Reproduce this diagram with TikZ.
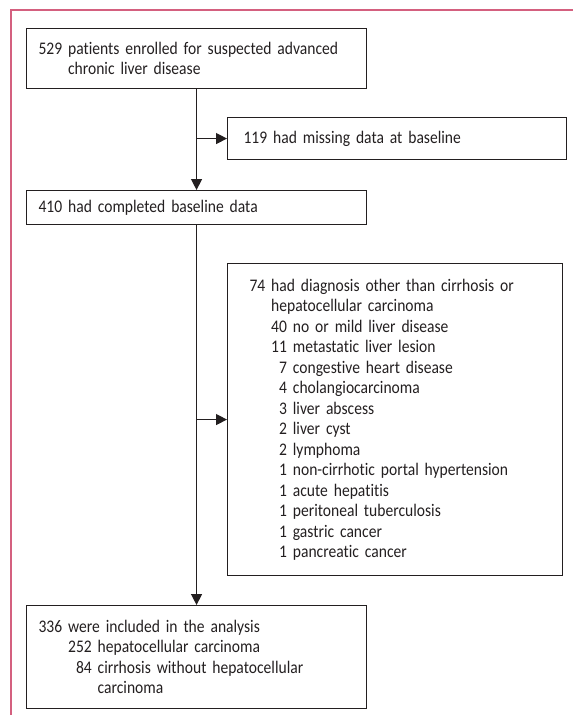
\documentclass[tikz,border=0pt]{standalone}
\usepackage{fontspec}
\setmainfont[FakeStretch=0.88,Ligatures=NoCommon]{Carlito}
\usetikzlibrary{arrows.meta}
\definecolor{pinkline}{HTML}{D4607F}
\definecolor{ink}{HTML}{231F20}
\begin{document}
\begin{tikzpicture}[x=1pt,y=-1pt,
  box/.style={draw=ink, line width=1.1pt, rectangle, anchor=north west, text=ink,
    font=\fontsize{17.7}{20.5}\selectfont, align=left, inner ysep=0pt},
  arr/.style={draw=ink, line width=1.4pt, -{Triangle[length=11pt,width=11pt]}}]
\useasboundingbox (0,0) rectangle (573,715);
\draw[pinkline, line width=1.6pt] (11,715) -- (11,10) -- (573,10);

\node[box, minimum width=340pt, minimum height=60pt, inner xsep=12pt, text width=316pt] (b1) at (26,28)
  {529 patients enrolled for suspected advanced\\\phantom{529\ }chronic liver disease};
\node[box, minimum width=339pt, minimum height=42pt, inner xsep=16pt, text width=307pt] (b2) at (227,117)
  {119 had missing data at baseline};
\node[box, minimum width=340pt, minimum height=34pt, inner xsep=12pt, text width=316pt] (b3) at (26,190)
  {410 had completed baseline data};
\node[box, minimum width=335pt, minimum height=312pt, inner xsep=22pt, text width=291pt] (b4) at (227,263)
  {74 had diagnosis other than cirrhosis or\\
   \phantom{74\ }hepatocellular carcinoma\\
   \phantom{74\ 00}\llap{40}\ no or mild liver disease\\
   \phantom{74\ 00}\llap{11}\ metastatic liver lesion\\
   \phantom{74\ 00}\llap{7}\ congestive heart disease\\
   \phantom{74\ 00}\llap{4}\ cholangiocarcinoma\\
   \phantom{74\ 00}\llap{3}\ liver abscess\\
   \phantom{74\ 00}\llap{2}\ liver cyst\\
   \phantom{74\ 00}\llap{2}\ lymphoma\\
   \phantom{74\ 00}\llap{1}\ non-cirrhotic portal hypertension\\
   \phantom{74\ 00}\llap{1}\ acute hepatitis\\
   \phantom{74\ 00}\llap{1}\ peritoneal tuberculosis\\
   \phantom{74\ 00}\llap{1}\ gastric cancer\\
   \phantom{74\ 00}\llap{1}\ pancreatic cancer};
\node[box, minimum width=340pt, minimum height=103pt, inner xsep=12pt, text width=316pt] (b5) at (26,605)
  {336 were included in the analysis\\
   \phantom{336\ 000}\llap{252}\ hepatocellular carcinoma\\
   \phantom{336\ 000}\llap{84}\ cirrhosis without hepatocellular\\
   \phantom{336\ 000\ }carcinoma};

\draw[arr] (b1.south) -- (b3.north);
\draw[arr] (b1.south |- b2.west) -- (b2.west);
\draw[arr] (b3.south) -- (b5.north);
\draw[arr] (b3.south |- b4.west) -- (b4.west);
\end{tikzpicture}
\end{document}
